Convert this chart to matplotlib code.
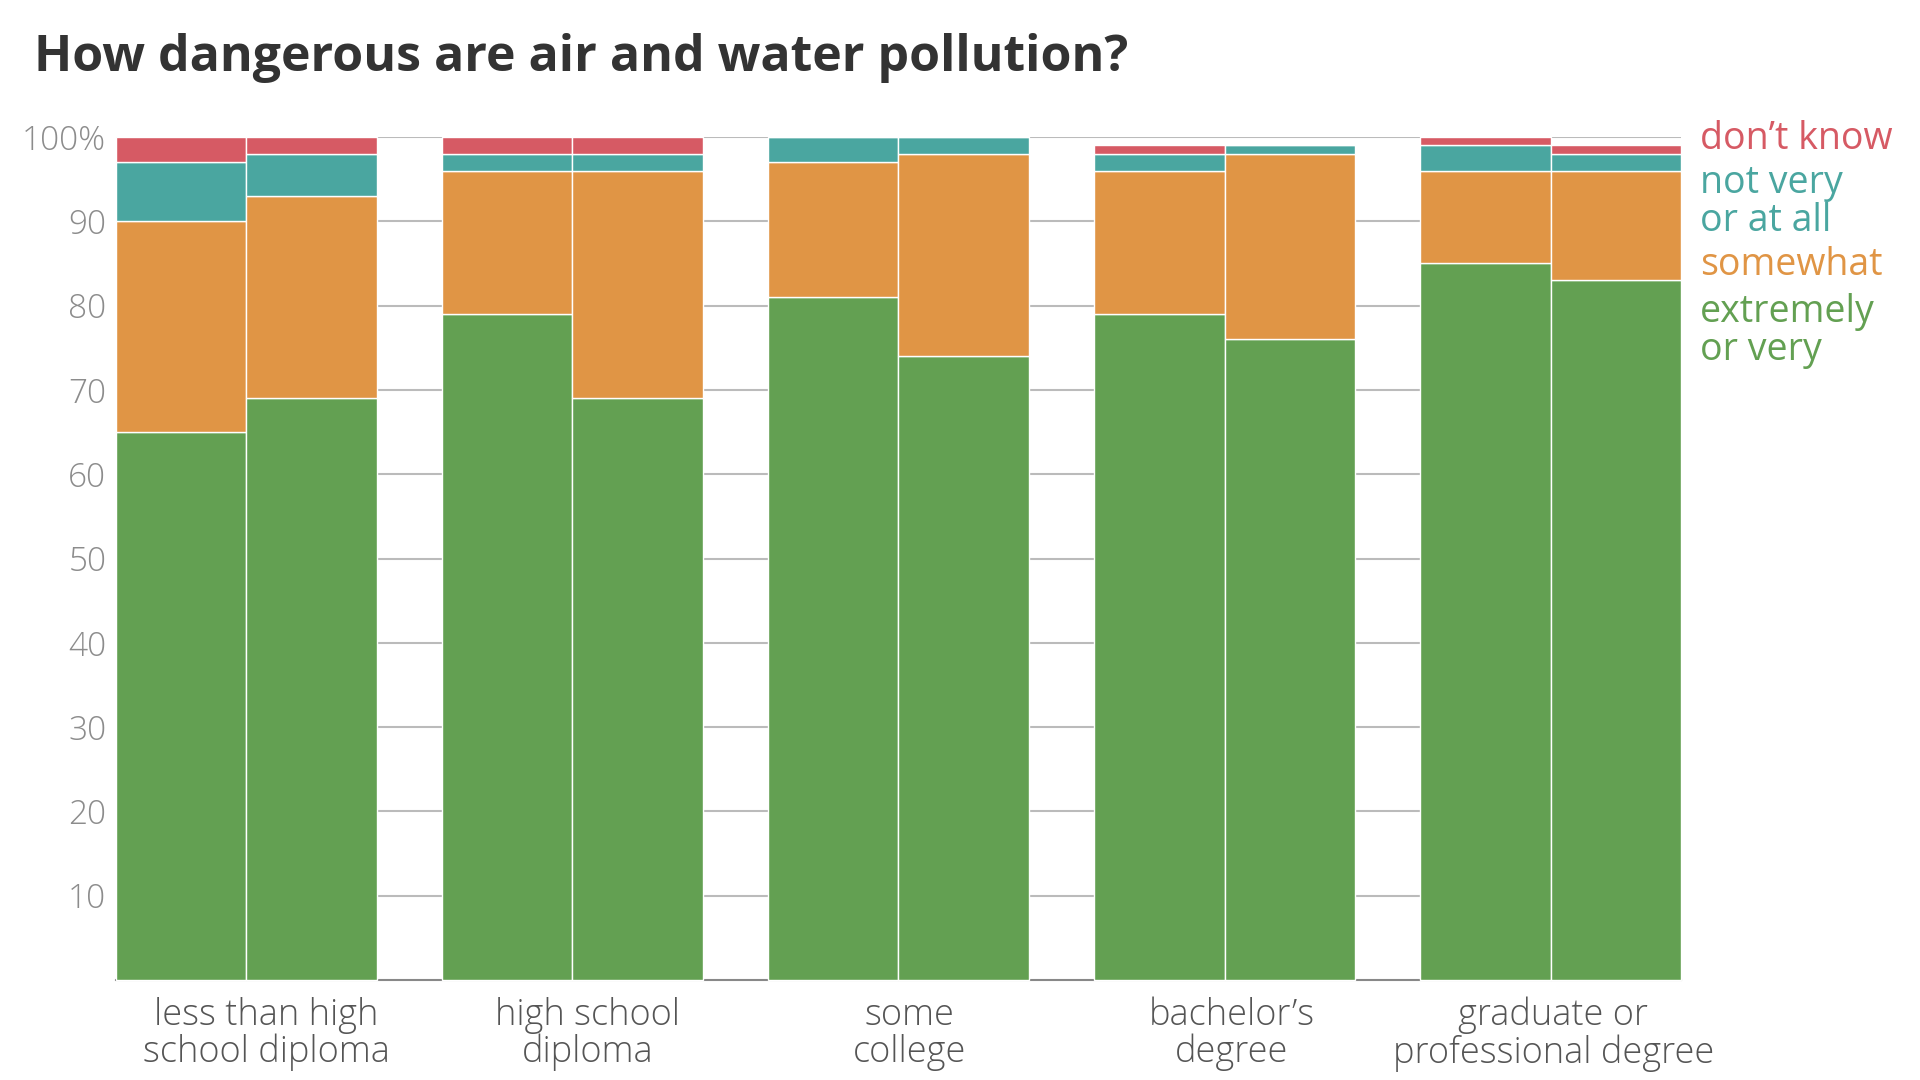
import numpy as np
import matplotlib.pyplot as plt

plt.rcParams['font.family'] = ['Open Sans', 'DejaVu Sans']

groups = ["less than high\nschool diploma", "high school\ndiploma", "some\ncollege",
          "bachelor\u2019s\ndegree", "graduate or\nprofessional degree"]

# first bar of each pair (air) and second bar (water), in percent
air_extreme = [65, 79, 81, 79, 85]
air_somewhat = [25, 17, 16, 17, 11]
air_notvery = [7, 2, 3, 2, 3]
air_dontknow = [3, 2, 0, 1, 1]

water_extreme = [69, 69, 74, 76, 83]
water_somewhat = [24, 27, 24, 22, 13]
water_notvery = [5, 2, 2, 1, 2]
water_dontknow = [2, 2, 0, 0, 1]

categories = ["extremely\nor very", "somewhat", "not very\nor at all", "don\u2019t know"]
colors = ["#63a052", "#e09545", "#4aa6a0", "#d65a64"]

fig = plt.figure(figsize=(19.2, 10.8), dpi=100)
ax = fig.add_axes([0.0604, 0.0926, 0.8151, 0.7805])

centers = np.arange(len(groups)) * 2.5
w = 1.0

for offset, series in [(-0.5, [air_extreme, air_somewhat, air_notvery, air_dontknow]),
                       (0.5, [water_extreme, water_somewhat, water_notvery, water_dontknow])]:
    bottom = np.zeros(len(groups))
    for vals, col in zip(series, colors):
        vals = np.array(vals, dtype=float)
        ax.bar(centers + offset, vals, w, bottom=bottom, color=col,
               edgecolor='white', linewidth=1.0, zorder=3, clip_on=False)
        bottom += vals

ax.set_xlim(-1, centers[-1] + 1)
ax.set_ylim(0, 100)

ax.set_yticks(np.arange(10, 101, 10))
ax.set_yticklabels([str(v) for v in range(10, 100, 10)] + ["100%"])
ax.yaxis.grid(True, color='#bbbbbb', linewidth=1.5, zorder=0)
ax.set_axisbelow(True)
ax.tick_params(axis='y', length=0, pad=7, labelsize=24, labelcolor='#8c8c8c')
for lbl in ax.get_yticklabels():
    lbl.set_fontweight('light')

# category labels sit a little right of the pair centres in the original
label_pos = 0.15 + centers * 0.987
ax.set_xticks(label_pos)
ax.set_xticklabels(groups, fontsize=26, color='#555555', linespacing=1.0)
for lbl in ax.get_xticklabels():
    lbl.set_fontweight('light')
ax.tick_params(axis='x', length=0, pad=12)

for s in ['top', 'right', 'left']:
    ax.spines[s].set_visible(False)
ax.spines['bottom'].set_color('#888888')
ax.spines['bottom'].set_linewidth(1.5)
ax.spines['bottom'].set_zorder(1)

fig.text(34 / 1920, 1 - 58 / 1080, "How dangerous are air and water pollution?",
         fontsize=36, fontweight='bold', color='#333333', va='center', ha='left')

# legend labels stacked on the right
legend_y = [331, 265, 202, 139]
for label, col, yy in zip(categories, colors, legend_y):
    fig.text(1700 / 1920, 1 - yy / 1080, label, fontsize=27, color=col,
             va='center', ha='left', linespacing=1.02)

fig.savefig("out.png", dpi=100)
